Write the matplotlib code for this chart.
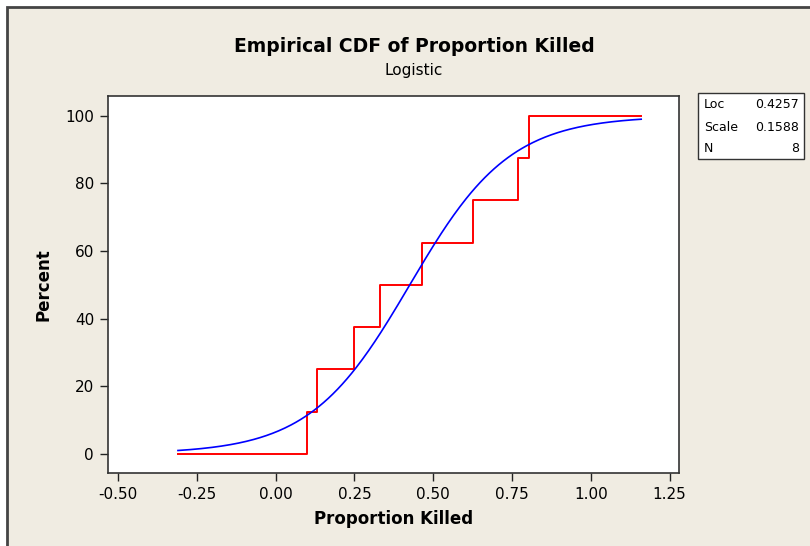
import matplotlib
matplotlib.use('Agg')
import matplotlib.pyplot as plt
import numpy as np
from matplotlib.patches import Rectangle

plt.rcParams['axes.unicode_minus'] = False
plt.rcParams['font.family'] = 'DejaVu Sans'

# Data
sorted_x = [0.10, 0.13, 0.25, 0.33, 0.465, 0.625, 0.77, 0.805]
x_start = -0.31
x_end = 1.16
fit_loc = 0.4257
fit_scale = 0.1588
n_obs = 8
x_ticks = [-0.50, -0.25, 0.00, 0.25, 0.50, 0.75, 1.00, 1.25]
y_ticks = [0, 20, 40, 60, 80, 100]

W, H = 810, 546
fig = plt.figure(figsize=(W / 100, H / 100), dpi=100)
fig.patch.set_facecolor('white')

# beige panel with dark frame on left/top
bg = '#F0ECE2'
fig.patches.append(Rectangle((7 / W, -0.1), 1.2, 1 - 7 / H + 0.1,
                             transform=fig.transFigure, facecolor=bg,
                             edgecolor='#444444', linewidth=2, zorder=-5))

ax = fig.add_axes([108 / W, 1 - 473 / H, 571 / W, 377 / H])
ax.set_facecolor('white')

# empirical CDF steps
n = len(sorted_x)
step_x = [x_start] + sorted_x + [x_end]
step_y = [0] + [100.0 * (i + 1) / n for i in range(n)] + [100]
ax.step(step_x, step_y, where='post', color='red', linewidth=1.4)

# fitted logistic curve
xs = np.linspace(x_start, x_end, 300)
cdf = 100.0 / (1 + np.exp(-(xs - fit_loc) / fit_scale))
ax.plot(xs, cdf, color='blue', linewidth=1.2)

ax.set_xlim(-0.532, 1.280)
ax.set_ylim(-5.7, 105.9)
ax.set_xticks(x_ticks)
ax.set_xticklabels(['%.2f' % v for v in x_ticks])
ax.set_yticks(y_ticks)
ax.tick_params(direction='out', length=6, width=1, labelsize=11,
               color='#222222', pad=4)
for s in ax.spines.values():
    s.set_color('#333333')
    s.set_linewidth(1.2)

ax.set_xlabel('Proportion Killed', fontsize=12, fontweight='bold', labelpad=6)
ax.set_ylabel('Percent', fontsize=12, fontweight='bold', labelpad=9)

fig.text(414 / W, 1 - 46 / H, 'Empirical CDF of Proportion Killed',
         ha='center', va='center', fontsize=13.5, fontweight='bold')
fig.text(414 / W, 1 - 71 / H, 'Logistic', ha='center', va='center',
         fontsize=11)

# parameter box
fig.patches.append(Rectangle((698 / W, 1 - 159 / H), 106 / W, 66 / H,
                             transform=fig.transFigure, facecolor='white',
                             edgecolor='#333333', linewidth=1, zorder=2))
rows = [('Loc', '%.4f' % fit_loc), ('Scale', '%.4f' % fit_scale),
        ('N', '%d' % n_obs)]
for i, (name, val) in enumerate(rows):
    yy = 1 - (105 + 22 * i) / H
    fig.text(704 / W, yy, name, ha='left', va='center', fontsize=9, zorder=3)
    fig.text(799 / W, yy, val, ha='right', va='center', fontsize=9, zorder=3)

fig.savefig('out.png', dpi=100, facecolor=fig.get_facecolor())
